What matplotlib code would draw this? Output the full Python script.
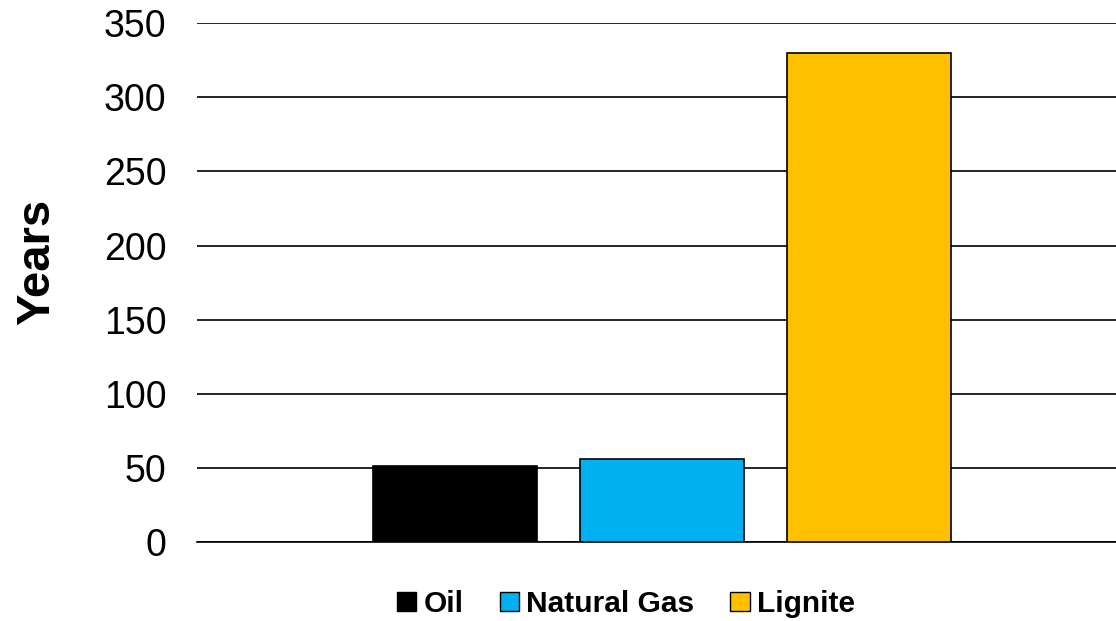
import matplotlib.pyplot as plt
from matplotlib.patches import Patch

# remaining years of reserves by fuel
fuels = ['Oil', 'Natural Gas', 'Lignite']
years = [51.5, 56, 330]
colors = ['#000000', '#00B0F0', '#FFC000']

plt.rcParams['font.family'] = ['Liberation Sans', 'DejaVu Sans']

fig = plt.figure(figsize=(11.16, 6.21), dpi=100)
ax = fig.add_axes([0.1765, 0.1267, 0.8235, 0.8363])

x = range(len(fuels))
ax.bar(x, years, width=0.79, color=colors, edgecolor='black', linewidth=1.2, zorder=3)

ax.set_ylim(0, 350)
ax.set_yticks(range(0, 351, 50))
ax.set_xlim(-1.246, 3.193)
ax.set_xticks([])
ax.yaxis.grid(True, color='black', linewidth=1.2, zorder=0)
ax.tick_params(axis='y', length=0, pad=22, labelsize=27)
for side in ['top', 'right', 'left']:
    ax.spines[side].set_visible(False)
ax.spines['bottom'].set_linewidth(1.2)

ax.set_ylabel('Years', fontsize=34, fontweight='bold', labelpad=32, y=0.54)

handles = [Patch(facecolor=c, edgecolor='black', linewidth=1) for c in colors]
fig.legend(handles, fuels, loc='center', bbox_to_anchor=(0.561, 1 - 604 / 621),
           ncol=3, frameon=False, prop={'size': 21.5, 'weight': 'bold'},
           handlelength=0.65, handleheight=0.65, handletextpad=0.25, columnspacing=1.2)

fig.savefig('out.png', dpi=100)
